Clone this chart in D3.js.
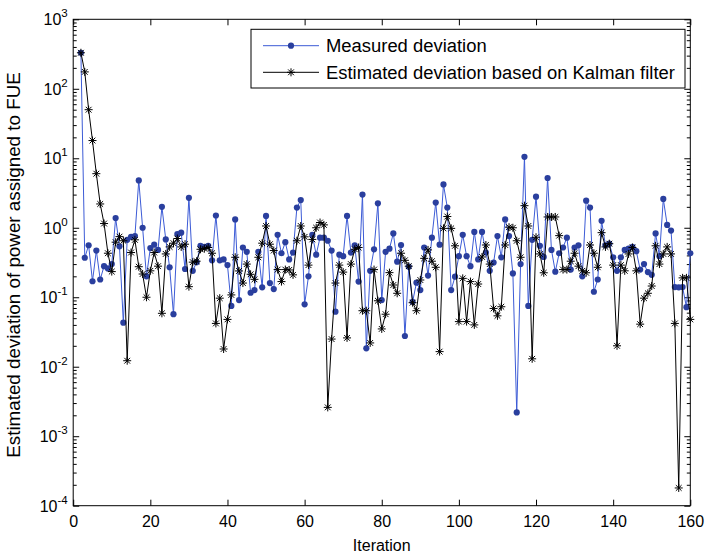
<!DOCTYPE html>
<html><head><meta charset="utf-8">
<script src="https://cdn.jsdelivr.net/npm/d3@7/dist/d3.min.js"></script>
<style>
body{margin:0;background:#fff}
svg{display:block}
text{font-family:"Liberation Sans",Arial,Helvetica,sans-serif;fill:#000}
</style>
</head><body>
<svg id="c" width="707" height="555"></svg>
<script>
// ---------- data ----------
const firstIteration = 2;
const measured = [
330,0.37,0.56,0.17,0.47,0.18,0.28,0.26,0.30,1.38,
0.54,0.043,0.67,0.74,0.76,4.8,1.0,0.20,0.51,0.57,
0.48,2.0,0.68,0.27,0.057,0.81,0.85,0.255,2.7,0.24,
0.32,0.55,0.53,0.55,0.34,1.5,0.34,0.35,0.29,0.075,
1.32,0.091,0.52,0.45,0.116,0.127,0.45,0.139,1.48,0.16,
0.131,0.79,0.43,0.62,0.35,0.44,1.95,2.5,0.079,0.20,
0.79,0.41,0.72,0.72,0.65,0.47,0.062,0.41,0.39,1.48,
0.44,0.56,0.168,3.0,0.0184,0.24,0.49,2.25,0.091,0.45,
0.50,0.83,0.325,0.565,0.0277,0.275,0.086,0.162,0.127,0.52,
0.205,0.72,2.3,0.57,4.2,1.95,0.127,0.198,0.39,0.79,
0.39,0.28,0.87,0.35,0.87,0.44,0.24,0.315,0.76,0.376,
1.32,0.76,0.22,0.0022,0.30,10.5,0.075,0.67,2.8,0.55,
0.38,5.2,0.48,0.233,0.43,0.52,0.72,0.25,0.52,0.56,
0.20,2.45,1.95,0.12,0.18,1.26,0.56,0.59,0.376,0.24,
0.376,0.48,0.50,0.53,0.46,0.25,0.30,0.23,0.21,0.83,
0.39,2.6,1.1,0.91,0.14,0.139,0.14,0.072,0.43
];
const kalman = [
330,175,50,18,6,2.2,1.15,0.43,0.234,0.62,
0.745,0.65,0.0122,0.44,0.67,0.275,0.216,0.10,0.24,0.44,
0.28,0.0587,0.42,0.53,0.60,0.70,0.53,0.58,0.142,0.32,
0.33,0.49,0.50,0.52,0.43,0.042,0.097,0.018,0.048,0.108,
0.376,0.239,0.16,0.30,0.214,0.181,0.376,0.60,1.06,0.58,
0.47,0.25,0.168,0.25,0.247,0.21,0.65,1.06,0.74,0.29,
0.68,1.0,1.19,1.1,0.0026,0.025,0.16,0.29,0.23,0.026,
0.30,0.49,0.52,0.064,0.064,0.022,0.25,0.089,0.035,0.057,
0.226,0.15,0.114,0.43,0.34,0.28,0.0835,0.064,0.177,0.363,
0.48,0.33,0.27,0.0165,0.98,1.45,0.98,0.55,0.0446,0.187,
0.0446,0.168,0.04,0.155,0.38,0.565,0.30,0.069,0.054,0.073,
0.565,1.02,1.0,0.65,0.376,2.08,1.06,0.013,0.73,0.42,
0.225,1.43,1.43,1.43,0.77,0.25,0.25,0.33,0.43,0.28,
0.24,0.225,0.565,0.43,0.27,0.85,0.53,0.59,0.29,0.02,
0.29,0.24,0.42,0.52,0.24,0.041,0.097,0.114,0.145,0.55,
0.30,0.42,0.53,0.42,0.042,0.00018,0.19,0.19,0.048
];
const xTicks = [0,20,40,60,80,100,120,140,160];
const yTickExponents = [-4,-3,-2,-1,0,1,2,3];
const seriesNames = ["Measured deviation","Estimated deviation based on Kalman filter"];
const xTitle = "Iteration";
const yTitle = "Estimated deviation of power assigned to FUE";

// ---------- layout ----------
const L = 73.2, R = 690.3, T = 19.3, B = 505.7;
const blueLine = "#3c5bd6", blueDot = "#2a3f9e";
const svg = d3.select("#c");
const x = d3.scaleLinear().domain([0,160]).range([L,R]);
const y = d3.scaleLog().domain([1e-4,1e3]).range([B,T]);

const majorY = yTickExponents.map(e => Math.pow(10,e));
const allY = y.ticks();
const minorY = allY.filter(v => Math.abs(Math.log10(v) - Math.round(Math.log10(v))) > 1e-6);

function styleAxis(g){
  g.select(".domain").remove();
  g.selectAll(".tick line").attr("stroke","#000").attr("stroke-width",1);
}

// axes ticks
svg.append("g").attr("transform",`translate(0,${B})`)
  .call(d3.axisBottom(x).tickValues(xTicks).tickSize(-6).tickPadding(10).tickFormat(d3.format("d")))
  .call(styleAxis)
  .call(g => g.selectAll("text").attr("font-size",16).attr("font-family","Liberation Sans, Arial, sans-serif"));
svg.append("g").attr("transform",`translate(0,${T})`)
  .call(d3.axisTop(x).tickValues(xTicks).tickSize(-6).tickFormat(""))
  .call(styleAxis);
svg.append("g").attr("transform",`translate(${L},0)`)
  .call(d3.axisLeft(y).tickValues(majorY).tickSize(-6).tickFormat(""))
  .call(styleAxis);
svg.append("g").attr("transform",`translate(${L},0)`)
  .call(d3.axisLeft(y).tickValues(minorY).tickSize(-3.5).tickFormat(""))
  .call(styleAxis);
svg.append("g").attr("transform",`translate(${R},0)`)
  .call(d3.axisRight(y).tickValues(majorY).tickSize(-6).tickFormat(""))
  .call(styleAxis);
svg.append("g").attr("transform",`translate(${R},0)`)
  .call(d3.axisRight(y).tickValues(minorY).tickSize(-3.5).tickFormat(""))
  .call(styleAxis);

// y tick labels 10^e
const yl = svg.append("g").selectAll("text").data(yTickExponents).join("text")
  .attr("x", L - 5.5).attr("y", e => y(Math.pow(10,e)) + 6)
  .attr("text-anchor","end").attr("font-size",16);
yl.append("tspan").text("10");
yl.append("tspan").attr("font-size",11.5).attr("dy",-8).text(e => String(e).replace("-","-"));

// frame
svg.append("rect").attr("x",L).attr("y",T).attr("width",R-L).attr("height",B-T)
  .attr("fill","none").attr("stroke","#000").attr("stroke-width",1);

// data
const mData = measured.map((v,i) => ({it: firstIteration + i, v}));
const kData = kalman.map((v,i) => ({it: firstIteration + i, v}));
const line = d3.line().x(d => x(d.it)).y(d => y(d.v));
const plot = svg.append("g");
plot.append("path").datum(mData).attr("d",line).attr("fill","none").attr("stroke",blueLine).attr("stroke-width",1);
plot.selectAll("circle.m").data(mData).join("circle").attr("class","m")
  .attr("cx",d=>x(d.it)).attr("cy",d=>y(d.v)).attr("r",3.1).attr("fill",blueDot);
plot.append("path").datum(kData).attr("d",line).attr("fill","none").attr("stroke","#000").attr("stroke-width",1);
const s = 4, sd = s*0.72;
const starPath = `M${-s},0H${s}M0,${-s}V${s}M${-sd},${-sd}L${sd},${sd}M${-sd},${sd}L${sd},${-sd}`;
plot.selectAll("path.k").data(kData).join("path").attr("class","k")
  .attr("transform",d=>`translate(${x(d.it)},${y(d.v)})`).attr("d",starPath)
  .attr("fill","none").attr("stroke","#000").attr("stroke-width",1);

// legend
const lg = svg.append("g");
lg.append("rect").attr("x",251).attr("y",29.3).attr("width",434).attr("height",58.7)
  .attr("fill","#fff").attr("stroke","#000").attr("stroke-width",1);
const rows = [45.7, 72.3];
lg.append("line").attr("x1",263).attr("x2",319).attr("y1",rows[0]).attr("y2",rows[0]).attr("stroke",blueLine);
lg.append("circle").attr("cx",291).attr("cy",rows[0]).attr("r",3.1).attr("fill",blueDot);
lg.append("line").attr("x1",263).attr("x2",319).attr("y1",rows[1]).attr("y2",rows[1]).attr("stroke","#000");
lg.append("path").attr("transform",`translate(291,${rows[1]})`).attr("d",starPath).attr("fill","none").attr("stroke","#000");
const lt = lg.selectAll("text.lt").data(seriesNames).join("text").attr("class","lt")
  .attr("x",326).attr("y",(d,i)=>rows[i]+6).attr("font-size",17).text(d=>d);
const w2 = lt.nodes()[1].getComputedTextLength();
const fs = 17*349/w2;
lt.attr("font-size",fs).attr("y",(d,i)=>rows[i]+fs*0.36);

// titles
const xt = svg.append("text").attr("x",(L+R)/2).attr("y",551).attr("text-anchor","middle").attr("font-size",16).text(xTitle);
const yt = svg.append("text").attr("transform",`translate(20,265) rotate(-90)`).attr("text-anchor","middle").attr("font-size",16).text(yTitle);
const wy = yt.node().getComputedTextLength();
yt.attr("font-size",16*386/wy);
</script>
</body></html>
